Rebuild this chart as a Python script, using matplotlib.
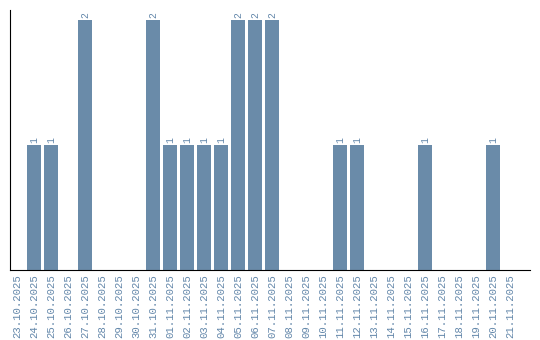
import matplotlib.pyplot as plt
import numpy as np

dates = ["23.10.2025", "24.10.2025", "25.10.2025", "26.10.2025", "27.10.2025",
         "28.10.2025", "29.10.2025", "30.10.2025", "31.10.2025", "01.11.2025",
         "02.11.2025", "03.11.2025", "04.11.2025", "05.11.2025", "06.11.2025",
         "07.11.2025", "08.11.2025", "09.11.2025", "10.11.2025", "11.11.2025",
         "12.11.2025", "13.11.2025", "14.11.2025", "15.11.2025", "16.11.2025",
         "17.11.2025", "18.11.2025", "19.11.2025", "20.11.2025", "21.11.2025"]
counts = [0, 1, 1, 0, 2, 0, 0, 0, 2, 1, 1, 1, 1, 2, 2, 2, 0, 0, 0, 1,
          1, 0, 0, 0, 1, 0, 0, 0, 1, 0]

bar_color = "#6a8ba9"
text_color = "#6387aa"

fig = plt.figure(figsize=(5.4, 3.4), dpi=100)
ax = fig.add_axes([10/540, 70/340, 520/540, 260/340])

x = np.arange(len(dates))
ax.bar(x, counts, width=0.82, color=bar_color)

# Werte über den Balken
for xi, c in zip(x, counts):
    if c > 0:
        ax.text(xi, c + 0.02, str(c), rotation=90, ha="center", va="bottom",
                color=text_color, fontsize=7, family="Liberation Mono")

ax.set_xlim(-7/17, 30.18)
ax.set_ylim(0, 2.08)
ax.set_xticks(x)
ax.set_xticklabels(dates, rotation=90, family="Liberation Mono", fontsize=7.7,
                   color=text_color)
ax.tick_params(axis="x", length=0, pad=3)
ax.set_yticks([])
ax.spines["top"].set_visible(False)
ax.spines["right"].set_visible(False)

plt.savefig("out.png", dpi=100)
